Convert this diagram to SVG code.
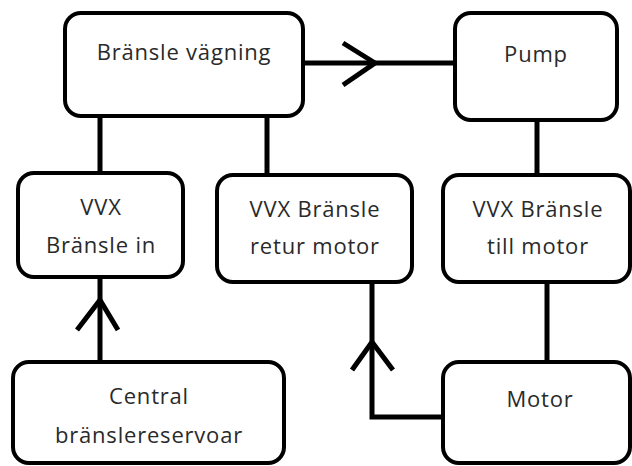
<svg xmlns="http://www.w3.org/2000/svg" width="632" height="466" viewBox="0 0 632 466">
<style>
.box{fill:#fff;stroke:#000;stroke-width:4}
.lbl{font-family:"Open Sans","Noto Sans",sans-serif;font-size:22px;fill:#2a2a2a;text-anchor:middle;letter-spacing:0.8px}
.con{fill:none;stroke:#000;stroke-width:5;stroke-linecap:butt;stroke-linejoin:miter}
.head{fill:none;stroke:#000;stroke-width:5;stroke-linecap:butt;stroke-linejoin:miter}
</style>
<rect width="632" height="466" fill="#fff"/>
<g id="connectors">
<line class="con" x1="303" y1="63" x2="455" y2="63"/>
<polyline class="head" points="343,43 375,63 343,85"/>
<line class="con" x1="100" y1="116" x2="100" y2="173"/>
<line class="con" x1="267" y1="116" x2="267" y2="175"/>
<line class="con" x1="537" y1="120" x2="537" y2="175"/>
<line class="con" x1="100" y1="277" x2="100" y2="362"/>
<polyline class="head" points="77,330 100,300 118,330"/>
<polyline class="con" points="372,282 372,417 443,417"/>
<polyline class="head" points="352,370 372,342 393,370"/>
<line class="con" x1="547" y1="282" x2="547" y2="362"/>
</g>
<g id="node-vagning">
<rect class="box" x="65" y="13" width="238" height="103" rx="16"/>
<text class="lbl" x="184" y="60">Bränsle vägning</text>
</g>
<g id="node-pump">
<rect class="box" x="455" y="13" width="162" height="107" rx="16"/>
<text class="lbl" x="536" y="62">Pump</text>
</g>
<g id="node-vvx-in">
<rect class="box" x="18" y="173" width="165" height="104" rx="16"/>
<text class="lbl" x="101" y="215">VVX</text>
<text class="lbl" x="101" y="253">Bränsle in</text>
</g>
<g id="node-vvx-retur">
<rect class="box" x="217" y="175" width="195" height="107" rx="16"/>
<text class="lbl" x="315" y="217">VVX Bränsle</text>
<text class="lbl" x="315" y="254">retur motor</text>
</g>
<g id="node-vvx-till">
<rect class="box" x="443" y="175" width="187" height="107" rx="16"/>
<text class="lbl" x="538" y="217">VVX Bränsle</text>
<text class="lbl" x="538" y="254">till motor</text>
</g>
<g id="node-central">
<rect class="box" x="13" y="362" width="271" height="101" rx="16"/>
<text class="lbl" x="149" y="404">Central</text>
<text class="lbl" x="149" y="443">bränslereservoar</text>
</g>
<g id="node-motor">
<rect class="box" x="443" y="362" width="187" height="101" rx="16"/>
<text class="lbl" x="540" y="407">Motor</text>
</g>
</svg>
